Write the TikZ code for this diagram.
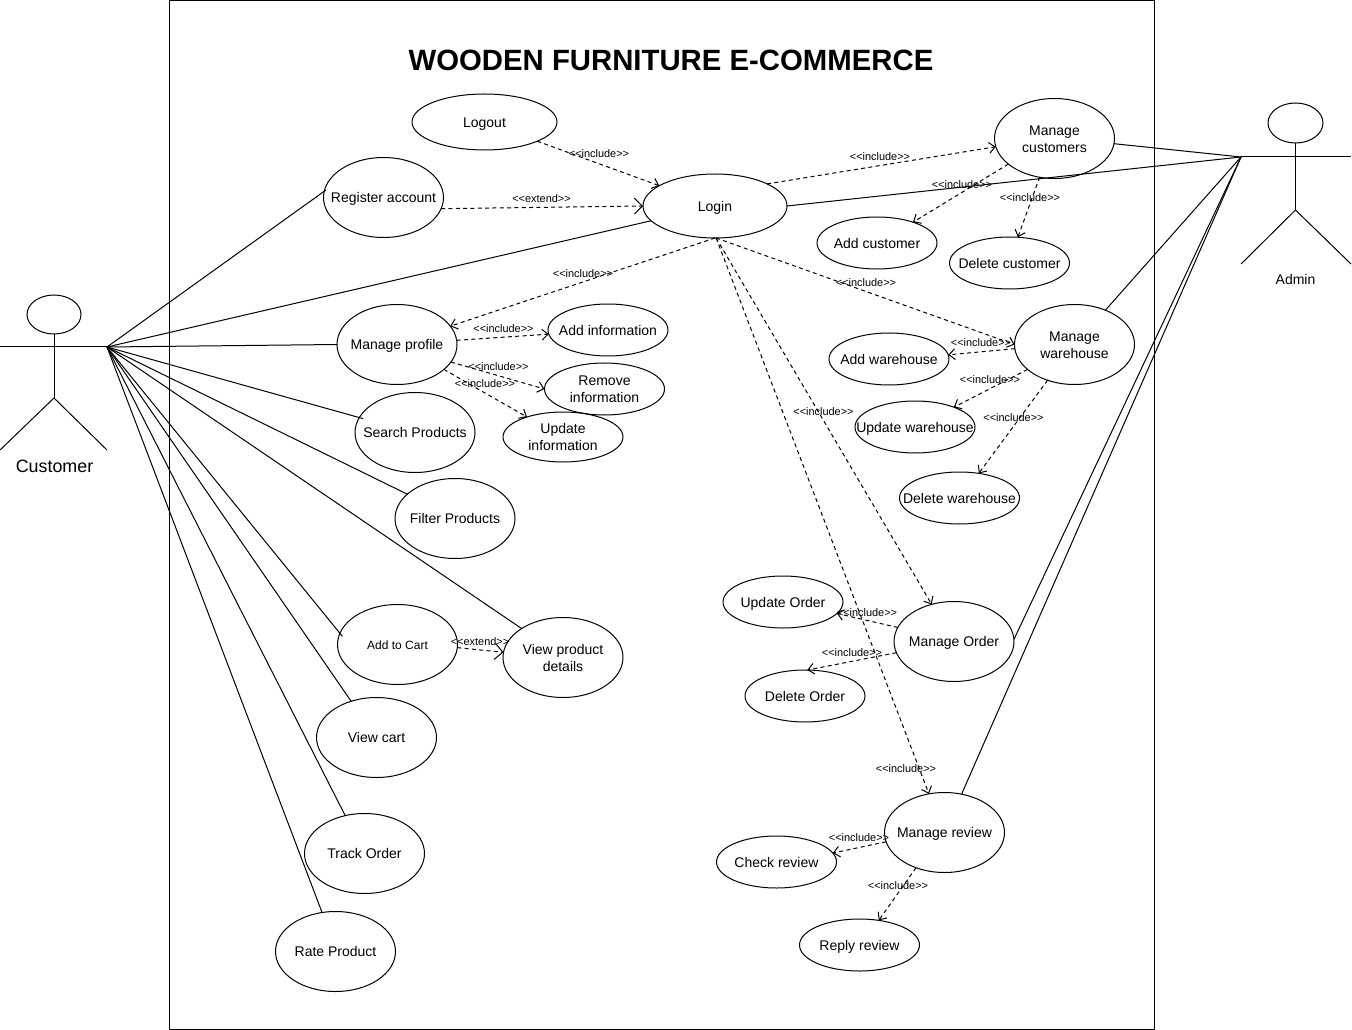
\documentclass[tikz,border=0pt]{standalone}
\usepackage{fontspec}
\setmainfont{Liberation Sans}
\usetikzlibrary{arrows.meta,shapes.geometric}

\newcommand{\uc}[1]{\raisebox{-4pt}[0pt][0pt]{\makebox[0pt]{\begin{tabular}{@{}c@{}}#1\end{tabular}}}}
\newcommand{\incl}{<{}<include>{}>}
\newcommand{\extd}{<{}<extend>{}>}
\tikzset{
  usecase/.style={ellipse,draw,inner sep=0pt,outer sep=0pt,minimum width=90pt,minimum height=60pt,font=\fontsize{10.5}{12.75}\selectfont},
  subcase/.style={usecase,minimum height=39pt},
  actorhead/.style={ellipse,draw,inner sep=0pt,outer sep=0pt},
  into/.style={shorten >=-3pt},
  dep/.style={dashed,dash pattern=on 3pt off 2.5pt,->},
  bigdep/.style={dashed,dash pattern=on 3pt off 2.5pt,-{Straight Barb[length=6pt,width=12pt]}},
  deplabel/.style={inner sep=0pt,yshift=-0.6pt,font=\fontsize{8.2}{10}\selectfont}
}

\begin{document}
\begin{tikzpicture}[x=0.75pt,y=-0.75pt,line width=0.75pt,>={Straight Barb[length=4.5pt,width=8pt]}]
\useasboundingbox (0,0) rectangle (1352,1030);

\node[draw,inner sep=0pt,outer sep=0pt,minimum width=738.75pt,minimum height=771.75pt] (system) at (662,515) {};
\node[inner sep=0pt,font=\fontsize{22}{27}\selectfont\bfseries] (title) at (671,60) {WOODEN FURNITURE E-COMMERCE};

% customer
\node[actorhead,minimum width=40.5pt,minimum height=29.25pt] (custhead) at (54,314.5) {};
\coordinate (custhip) at (54,398);
\coordinate (custleft) at (0,347);
\coordinate (cust) at (107,347);
\coordinate (custlegl) at (0,450);
\coordinate (custlegr) at (107,450);
\draw (custhead.south) -- (custhip);
\draw (custleft) -- (cust);
\draw (custlegl) -- (custhip) -- (custlegr);
\node[inner sep=0pt,font=\fontsize{13.4}{16}\selectfont] (custname) at (54.5,466) {Customer};

% admin
\node[actorhead,minimum width=41.25pt,minimum height=30pt] (adminhead) at (1295.5,123) {};
\coordinate (adminhip) at (1295.5,210);
\coordinate (admin) at (1241,157);
\coordinate (adminright) at (1351,157);
\coordinate (adminlegl) at (1241,264);
\coordinate (adminlegr) at (1351,264);
\draw (adminhead.south) -- (adminhip);
\draw (admin) -- (adminright);
\draw (adminlegl) -- (adminhip) -- (adminlegr);
\node[inner sep=0pt,font=\fontsize{10.5}{12.75}\selectfont] (adminname) at (1295.5,279) {Admin};

% use cases
\node[subcase,minimum width=108.75pt,minimum height=42pt] (logout) at (484.5,122) {\uc{Logout}};
\node[usecase] (register) at (383.5,197.5) {\uc{Register account}};
\node[usecase,minimum width=108pt,minimum height=48pt] (login) at (715,206) {\uc{Login}};
\node[usecase] (customers) at (1054.5,138.5) {\uc{Manage\\customers}};
\node[subcase] (addcustomer) at (877,243) {\uc{Add customer}};
\node[subcase] (delcustomer) at (1009.5,263) {\uc{Delete customer}};
\node[usecase] (profile) at (397,344.5) {\uc{Manage profile}};
\node[subcase] (addinfo) at (608,330) {\uc{Add information}};
\node[subcase] (removeinfo) at (604.5,389) {\uc{Remove\\information}};
\node[subcase,minimum height=37.5pt] (updateinfo) at (563,437) {\uc{Update\\information}};
\node[usecase] (search) at (415,432.5) {\uc{Search Products}};
\node[usecase] (filter) at (455,518.5) {\uc{Filter Products}};
\node[subcase] (addwarehouse) at (889,359) {\uc{Add warehouse}};
\node[usecase] (warehouse) at (1074.5,344.5) {\uc{Manage\\warehouse}};
\node[subcase] (updwarehouse) at (915,427) {\uc{Update warehouse}};
\node[subcase] (delwarehouse) at (959.5,498) {\uc{Delete warehouse}};
\node[usecase,font=\fontsize{9}{11}\selectfont] (addcart) at (397.5,644.5) {\uc{Add to Cart}};
\node[usecase] (details) at (563,657.5) {\uc{View product\\details}};
\node[subcase] (updorder) at (783,602) {\uc{Update Order}};
\node[usecase] (order) at (954,641.5) {\uc{Manage Order}};
\node[subcase] (delorder) at (805,696) {\uc{Delete Order}};
\node[usecase] (viewcart) at (376.5,737.5) {\uc{View cart}};
\node[usecase] (track) at (364.5,853.5) {\uc{Track Order}};
\node[usecase] (rate) at (335.5,951.5) {\uc{Rate Product}};
\node[usecase] (review) at (944.5,832.5) {\uc{Manage review}};
\node[subcase] (checkreview) at (776.5,862) {\uc{Check review}};
\node[subcase] (replyreview) at (859.5,945) {\uc{Reply review}};

% customer associations
\draw[shorten >=-1.5pt] (cust) -- (register.174.8);
\draw (cust) -- (login.193);
\draw (cust) -- (profile.180);
\draw[into] (cust) -- (search.165);
\draw (cust) -- (filter.153);
\draw (cust) -- (details.145.6);
\draw[into] (cust) -- (addcart.169.7);
\draw (cust) -- (viewcart.125);
\draw (cust) -- (track.117);
\draw (cust) -- (rate.109);

% admin associations
\draw (admin) -- (customers.355);
\draw (admin) -- (login.0);
\draw (admin) -- (warehouse.48.5);
\draw (admin) -- (order.2);
\draw (admin) -- (review.66.8);

% include and extend
\draw[dep] (logout.340.6) -- (login.160);
\draw[bigdep] (register.349.7) -- (login.180);
\draw[dep] (login.23) -- (customers.188);
\draw[dep] (customers.209.7) -- (addcustomer.30);
\draw[dep] (customers.249.8) -- (delcustomer.72);
\draw[dep] (login.270) -- (profile.19.5);
\draw[dep] (profile.4) -- (addinfo.184);
\draw[dep] (profile.342.6) -- (removeinfo.180);
\draw[dep] (profile.332) -- (updateinfo.151);
\draw[dep] (login.272) -- (warehouse.180);
\draw[dep] (warehouse.184) -- (addwarehouse.4);
\draw[dep] (warehouse.208) -- (updwarehouse.27.8);
\draw[dep] (warehouse.233) -- (delwarehouse.52.4);
\draw[dep] (login.272) -- (order.121);
\draw[dep] (login.272) -- (review.112.4);
\draw[dep] (order.166.7) -- (updorder.348.5);
\draw[dep] (order.191.4) -- (delorder.85.6);
\draw[dep] (review.189) -- (checkreview.9);
\draw[dep] (review.231) -- (replyreview.52.7);
\draw[bigdep] (addcart.357) -- (details.175);

% labels
\node[deplabel] (lblout) at (599,153) {\incl};
\node[deplabel] (lblreg) at (541.5,198) {\extd};
\node[deplabel] (lblcust) at (880,156) {\incl};
\node[deplabel] (lbladdc) at (962,184) {\incl};
\node[deplabel] (lbldelc) at (1030,197) {\incl};
\node[deplabel] (lblprof) at (583,273) {\incl};
\node[deplabel] (lblware) at (866,282) {\incl};
\node[deplabel] (lbladdi) at (503.5,328) {\incl};
\node[deplabel] (lblremi) at (498.5,366) {\incl};
\node[deplabel] (lblupdi) at (485,383) {\incl};
\node[deplabel] (lbladdw) at (981,342) {\incl};
\node[deplabel] (lblupdw) at (990,379) {\incl};
\node[deplabel] (lbldelw) at (1013.5,417) {\incl};
\node[deplabel] (lblord) at (823.5,411) {\incl};
\node[deplabel] (lblupdo) at (867,612) {\incl};
\node[deplabel] (lbldelo) at (852,652) {\incl};
\node[deplabel] (lblrev) at (906,768) {\incl};
\node[deplabel] (lblchk) at (859,837) {\incl};
\node[deplabel] (lblrep) at (898,885) {\incl};
\node[deplabel] (lblcart) at (480,641) {\extd};

\end{tikzpicture}
\end{document}
